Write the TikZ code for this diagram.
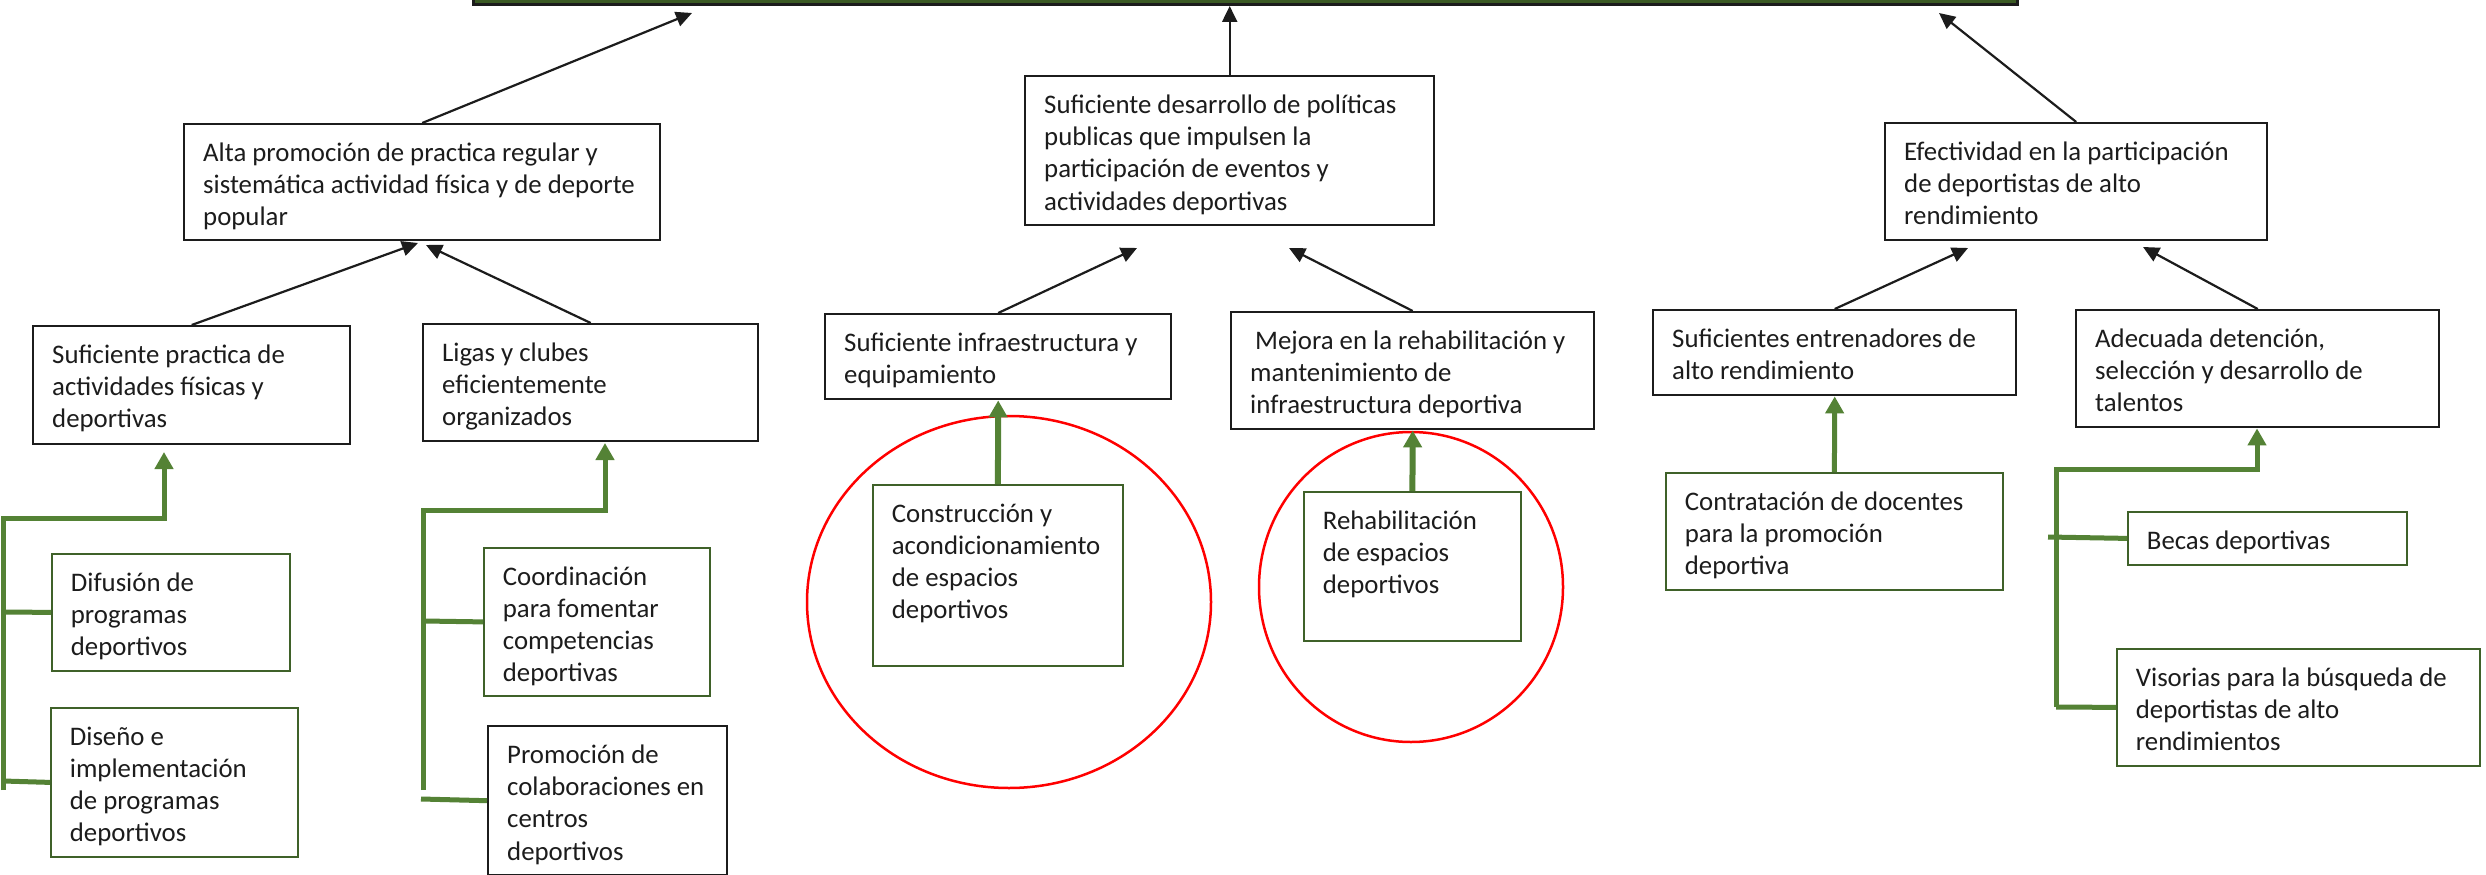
\documentclass[tikz,border=0pt]{standalone}
\usepackage{fontspec}
\setmainfont{Carlito}
\usetikzlibrary{arrows.meta}
\definecolor{gline}{HTML}{548235}
\definecolor{gborder}{HTML}{3F6129}
\definecolor{barfill}{HTML}{3B5A24}
\definecolor{ink}{HTML}{1C1C1C}
\definecolor{redc}{HTML}{FF0000}
\newcommand\mkbox[7]{%
  \node[#1, anchor=north west] (#2) at (#3,#4) {\begin{minipage}[t][\dimexpr#6pt-29pt\relax][t]{\dimexpr#5pt-38pt\relax}\raggedright\hyphenpenalty=10000 \strut#7\end{minipage}};}
\tikzset{
  bbox/.style={draw=ink, line width=2.4pt, fill=white, rectangle, inner xsep=19pt, inner ysep=14.5pt, text=ink},
  gbox/.style={draw=gborder, line width=1.8pt, fill=white, rectangle, inner xsep=19pt, inner ysep=14.5pt, text=ink},
  barrow/.style={draw=ink, line width=2.2pt, -{Triangle[length=16pt,width=15pt]}},
  gline/.style={draw=gline, line width=5pt},
  garrow/.style={draw=gline, line width=5pt, -{Triangle[length=17pt,width=18pt]}},
  garrowb/.style={draw=gline, line width=6pt, -{Triangle[length=17pt,width=18pt]}},
  redline/.style={draw=redc, line width=2.5pt},
  topbar/.style={draw=ink, line width=2.6pt, fill=barfill, rectangle}
}
\begin{document}
\begin{tikzpicture}[x=1pt, y=-1pt, font=\fontsize{26.8}{32.3}\selectfont, line join=miter]
\useasboundingbox (0,0) rectangle (2486,875);
\fill[white] (0,0) rectangle (2486,875);
% top bar
\node[topbar, minimum width=1544pt, minimum height=40pt, anchor=south west] (top) at (472,6) {};
% red ellipses
\draw[redline] (1009,602) ellipse [x radius=202, y radius=186];
\draw[redline] (1411,587) ellipse [x radius=152, y radius=155];
% level 1
\mkbox{bbox}{A}{183}{123}{476}{116}{Alta promoción de practica regular y\\sistemática actividad física y de deporte\\popular}
\mkbox{bbox}{B}{1024}{75}{409}{149}{Suficiente desarrollo de políticas\\publicas que impulsen la\\participación de eventos y\\actividades deportivas}
\mkbox{bbox}{C}{1884}{122}{382}{117}{Efectividad en la participación\\de deportistas de alto\\rendimiento}
% level 2
\mkbox{bbox}{A1}{32}{325}{317}{118}{Suficiente practica de\\actividades físicas y\\deportivas}
\mkbox{bbox}{A2}{422}{323}{335}{117}{Ligas y clubes\\eficientemente\\organizados}
\mkbox{bbox}{B1}{824}{313}{346}{85}{Suficiente infraestructura y\\equipamiento}
\mkbox{bbox}{B2}{1230}{311}{363}{117}{\hspace{5pt}Mejora en la rehabilitación y\\mantenimiento de\\infraestructura deportiva}
\mkbox{bbox}{C1}{1652}{309}{363}{85}{Suficientes entrenadores de\\alto rendimiento}
\mkbox{bbox}{C2}{2075}{309}{363}{117}{Adecuada detención,\\selección y desarrollo de\\talentos}
% level 3
\mkbox{gbox}{A1a}{51}{553}{238}{117}{Difusión de\\programas\\deportivos}
\mkbox{gbox}{A1b}{50}{707}{247}{149}{Diseño e\\implementación\\de programas\\deportivos}
\mkbox{gbox}{A2a}{483}{547}{226}{148}{Coordinación\\para fomentar\\competencias\\deportivas}
\mkbox{bbox}{A2b}{487}{725}{239}{149}{Promoción de\\colaboraciones en\\centros\\deportivos}
\mkbox{gbox}{B1a}{872}{484}{250}{181}{Construcción y\\acondicionamiento\\de espacios\\deportivos}
\mkbox{gbox}{B2a}{1303}{491}{217}{149}{Rehabilitación\\de espacios\\deportivos}
\mkbox{gbox}{C1a}{1665}{472}{337}{117}{Contratación de docentes\\para la promoción\\deportiva}
\mkbox{gbox}{C2a}{2127}{511}{279}{53}{Becas deportivas}
\mkbox{gbox}{C2b}{2116}{648}{363}{117}{Visorias para la búsqueda de\\deportistas de alto\\rendimientos}
% black arrows
\coordinate (tA) at (692,13);
\coordinate (tC) at (1939,13);
\coordinate (tA1) at (418,243);
\coordinate (tA2) at (426,245);
\coordinate (tB1) at (1137,248);
\coordinate (tB2) at (1289,248);
\coordinate (tC1) at (1968,248);
\coordinate (tC2) at (2143,247);
\draw[barrow] (A.north) -- (tA);
\draw[barrow] (B.north) -- (B.north |- top.south);
\draw[barrow] (C.north) -- (tC);
\draw[barrow] (A1.north) -- (tA1);
\draw[barrow] (A2.north) -- (tA2);
\draw[barrow] (B1.north) -- (tB1);
\draw[barrow] (B2.north) -- (tB2);
\draw[barrow] (C1.north) -- (tC1);
\draw[barrow] (C2.north) -- (tC2);
% green connectors: left group
\coordinate (L1b) at (3,790);
\coordinate (L1t) at (164,518);
\coordinate (L1h) at (164,452);
\draw[garrow] (L1b) |- (L1t) -- (L1h);
\draw[gline] (3,612) -- (A1a.west);
\draw[gline] (3,781) -- (A1b.west);
% second group
\coordinate (L2b) at (423.5,790);
\coordinate (L2t) at (605,510);
\coordinate (L2h) at (605,443);
\draw[garrow] (L2b) |- (L2t) -- (L2h);
\draw[gline] (423.5,621) -- (A2a.west);
\draw[gline] (421,799) -- (A2b.west);
% middle
\draw[garrowb] (B1a.north) -- (B1.south);
\draw[garrowb] (B2a.north) -- (B2.south);
% right
\draw[garrow] (C1a.north) -- (C1.south);
\coordinate (R2b) at (2056,707);
\coordinate (R2t) at (2257,469);
\draw[garrow] (R2b) |- (R2t) -- (C2.south -| R2t);
\draw[gline] (2048,537) -- (C2a.west);
\draw[gline] (R2b) -- (C2b.west);
\end{tikzpicture}
\end{document}
